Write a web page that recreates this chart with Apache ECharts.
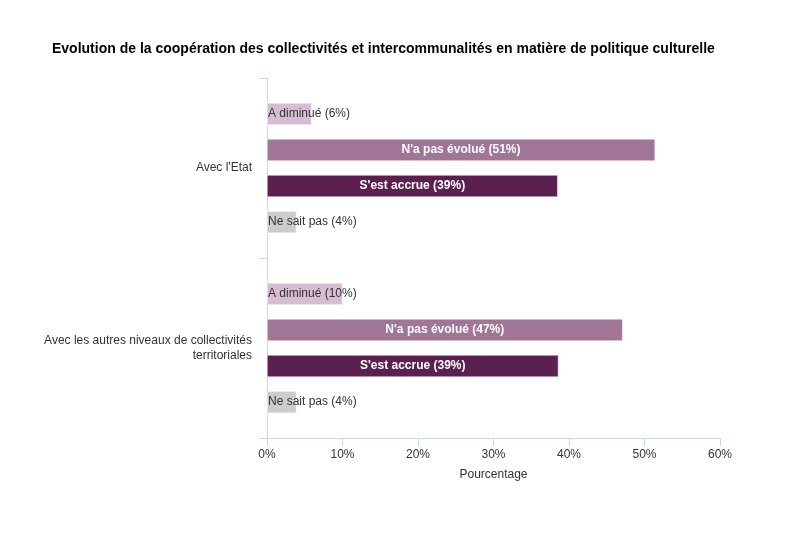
<!DOCTYPE html>
<html>
<head>
<meta charset="utf-8">
<script src="https://cdn.jsdelivr.net/npm/echarts@6/dist/echarts.min.js"></script>
<style>
  html, body { margin: 0; padding: 0; background: #fff; }
  #chart { width: 788px; height: 534px; }
</style>
</head>
<body>
<div id="chart"></div>
<script>
// categories (top to bottom)
const categories = ["Avec l'Etat", "Avec les autres niveaux de collectivités territoriales"]
// series values in %
const aDiminue = [5.9, 10.0]
const naPasEvolue = [51.4, 47.1]
const sestAccrue = [38.5, 38.6]
const neSaitPas = [3.9, 3.9]
const xTicks = [0, 10, 20, 30, 40, 50, 60]

const font = 'Liberation Sans, Arial, sans-serif'
const axisColor = '#ccd6eb'

function labelFor(name, inside) {
    return {
        show: true,
        position: inside ? 'inside' : 'insideLeft',
        distance: 1,
        fontFamily: font,
        fontSize: 12,
        color: inside ? '#fff' : '#333',
        fontWeight: inside ? 'bold' : 'normal',
        formatter: p => name + ' (' + Math.round(p.value) + '%)'
    }
}

function makeSeries(name, data, color, inside) {
    return {
        name: name,
        type: 'bar',
        data: data,
        barWidth: 22,
        barGap: '64%',
        itemStyle: {color: color, borderColor: '#fff', borderWidth: 0.5},
        label: labelFor(name, inside)
    }
}

let myChart = echarts.init(document.getElementById('chart'))
myChart.setOption({
    animation: false,
    backgroundColor: '#fff',
    title: {
        text: 'Evolution de la coopération des collectivités et intercommunalités en matière de politique culturelle',
        left: 47,
        top: 37,
        textStyle: {fontFamily: font, fontSize: 14, fontWeight: 'bold', color: '#000'}
    },
    grid: {left: 267, right: 68, top: 78, bottom: 96},
    xAxis: {
        type: 'value',
        min: xTicks[0],
        max: xTicks[xTicks.length - 1],
        interval: 10,
        name: 'Pourcentage',
        nameLocation: 'middle',
        nameGap: 31,
        nameTextStyle: {fontFamily: font, fontSize: 12, color: '#333'},
        axisLine: {show: true, lineStyle: {color: axisColor}},
        axisTick: {show: true, length: 8, lineStyle: {color: axisColor}},
        splitLine: {show: false},
        axisLabel: {fontFamily: font, fontSize: 12, color: '#333', margin: 11, formatter: '{value}%'}
    },
    yAxis: {
        type: 'category',
        data: categories,
        inverse: true,
        axisLine: {show: true, lineStyle: {color: axisColor}},
        axisTick: {show: true, length: 8, lineStyle: {color: axisColor}},
        axisLabel: {
            fontFamily: font, fontSize: 12, color: '#333', margin: 15,
            width: 215, overflow: 'break', lineHeight: 15, padding: [4, 0, 0, 0]
        }
    },
    series: [
        makeSeries('A diminué', aDiminue, '#d8bdd2', false),
        makeSeries("N'a pas évolué", naPasEvolue, '#a07596', true),
        makeSeries("S'est accrue", sestAccrue, '#5b204f', true),
        makeSeries('Ne sait pas', neSaitPas, '#cccccc', false)
    ]
})
</script>
</body>
</html>
